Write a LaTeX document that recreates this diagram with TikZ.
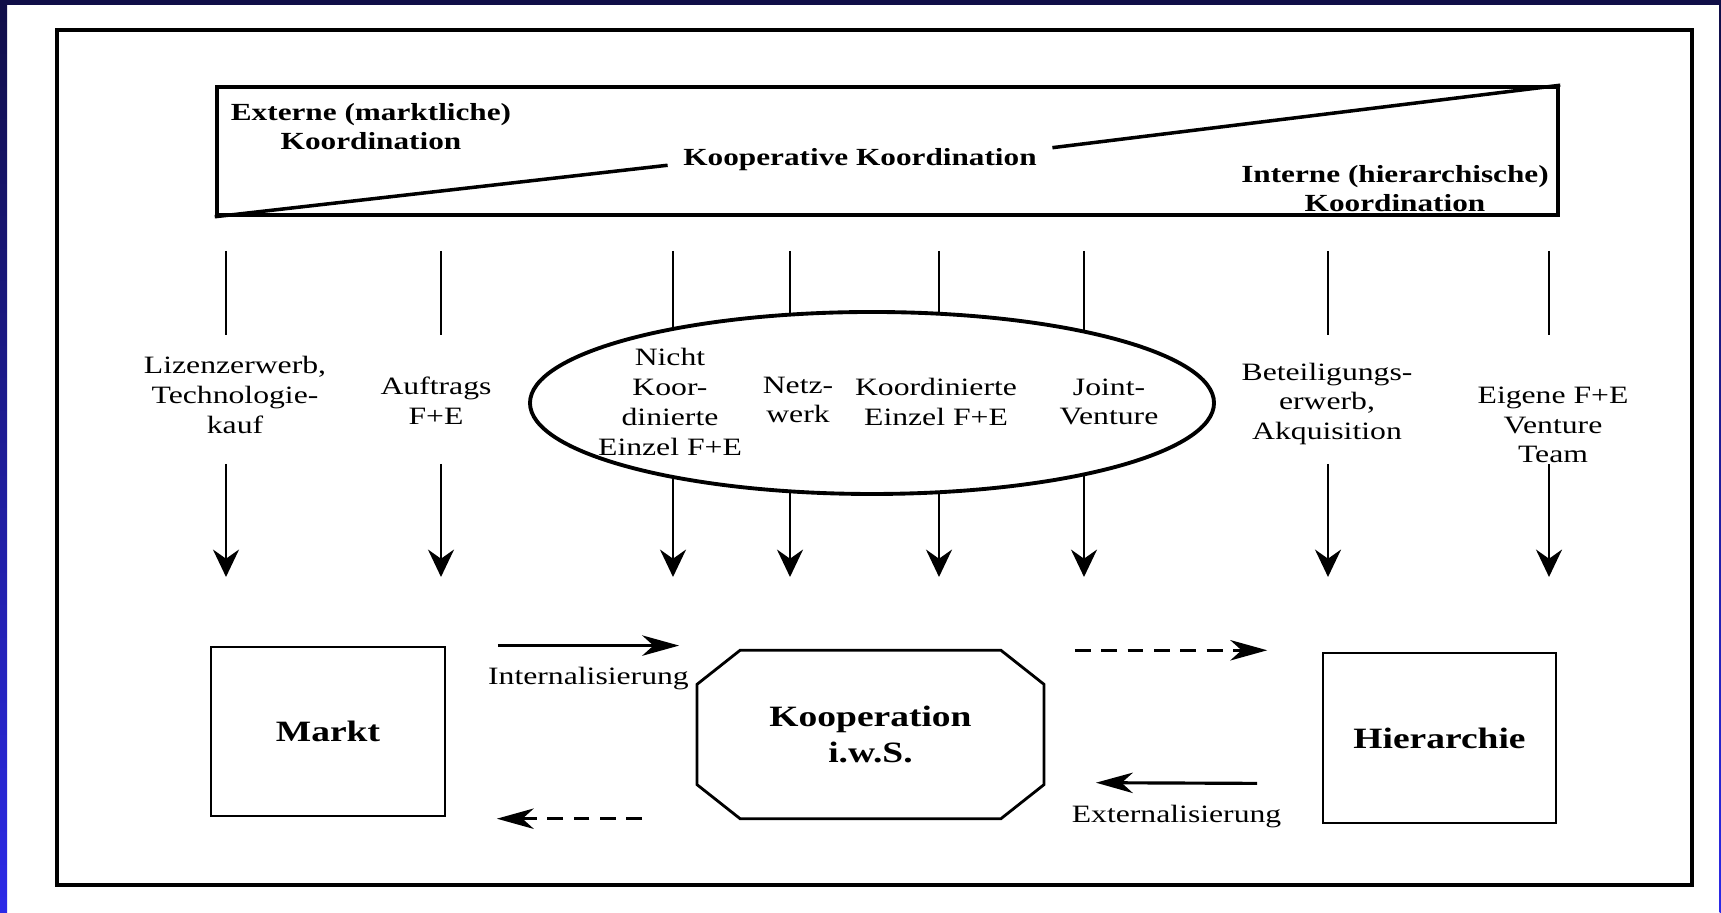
\documentclass[tikz,border=0pt]{standalone}
\usepackage{fontspec}
\setmainfont{Liberation Serif}
\usetikzlibrary{arrows.meta, shapes.geometric}

\definecolor{slidenavy}{RGB}{16,14,72}
\definecolor{slideblue}{RGB}{44,42,232}

\begin{document}
\begin{tikzpicture}[every node/.style={xscale=1.27},
    lbl/.style={align=center, font=\fontsize{7.1}{8.5}\selectfont},
    head/.style={align=center, font=\bfseries\fontsize{7}{8.2}\selectfont},
    bigbox/.style={draw, line width=0.8pt, align=center, font=\bfseries\fontsize{8.4}{10}\selectfont},
    vline/.style={line width=0.65pt},
    down/.style={-{Stealth[length=7.8pt, width=7.4pt, inset=2.6pt]}, line width=0.65pt},
    side/.style={-{Stealth[length=10.5pt, width=5.8pt, inset=3.2pt]}, line width=0.9pt}]
    \useasboundingbox (0,0) rectangle (17.21,9.13);
    % Slide frame
    \fill[white] (0,0) rectangle (17.21,9.13);
    \fill[slidenavy] (0,9.08) rectangle (17.21,9.13);
    \shade[top color=slidenavy, bottom color=slideblue] (0,0) rectangle (0.07,9.08);
    \shade[top color=slidenavy, bottom color=slideblue] (17.195,0) rectangle (17.21,9.08);
    \draw[line width=0.9pt] (0.57,0.28) rectangle (16.92,8.83);

    % Coordination band
    \node[draw, line width=1pt, minimum width=10.559cm, minimum height=1.28cm, inner sep=0] (band) at (8.875,7.62) {};
    \node[head] (ext) at (3.71,7.86) {Externe (marktliche)\\Koordination};
    \node[head] (kk) at (8.60,7.53) {Kooperative Koordination};
    \node[head] (int) at (13.95,7.245) {Interne (hierarchische)\\Koordination};
    \draw[line width=1pt] (band.south west) -- ([yshift=-1.5pt]kk.west);
    \draw[line width=1pt] ([yshift=3.5pt]kk.east) -- (band.north east);

    % Columns
    \foreach \x [count=\i] in {2.26,4.41,6.73,7.90,9.39,10.84,13.28,15.49}{
        \coordinate (top\i) at (\x,6.62);
        \coordinate (end\i) at (\x,5.78);
        \coordinate (start\i) at (\x,4.49);
        \coordinate (tip\i) at (\x,3.36);
    }
    \foreach \i in {1,2,7,8}{
        \draw[vline] (top\i) -- (end\i);
        \draw[down] (start\i) -- (tip\i);
    }
    \foreach \i in {3,...,6}
        \draw[down] (top\i) -- (tip\i);

    % Cooperation forms
    \node[ellipse, draw, fill=white, line width=1.1pt, minimum width=5.386cm, minimum height=1.82cm, inner sep=0] (grp) at (8.72,5.10) {};
    \node[lbl] (lz) at (2.35,5.18) {Lizenzerwerb,\\Technologie-\\kauf};
    \node[lbl] (auf) at (4.36,5.12) {Auftrags\\F+E};
    \node[lbl] (nk) at (6.70,5.11) {Nicht\\Koor-\\dinierte\\Einzel F+E};
    \node[lbl] (nw) at (7.98,5.13) {Netz-\\werk};
    \node[lbl] (kez) at (9.36,5.11) {Koordinierte\\Einzel F+E};
    \node[lbl] (jv) at (11.09,5.11) {Joint-\\Venture};
    \node[lbl] (bet) at (13.27,5.09) {Beteiligungs-\\erwerb,\\Akquisition};
    \node[lbl] (eig) at (15.53,4.88) {Eigene F+E\\Venture\\Team};

    % Institutions
    \node[bigbox, minimum width=1.843cm, minimum height=1.69cm] (markt) at (3.28,1.815) {Markt};
    \node[align=center, font=\bfseries\fontsize{8.4}{10}\selectfont, minimum width=2.717cm, minimum height=1.67cm] (koop) at (8.705,1.785) {Kooperation\\i.w.S.};
    \node[bigbox, minimum width=1.835cm, minimum height=1.70cm] (hier) at (14.395,1.75) {Hierarchie};
    \draw[line width=0.8pt] ([xshift=0.43cm]koop.north west) -- ([xshift=-0.43cm]koop.north east)
        -- ([yshift=-0.34cm]koop.north east) -- ([yshift=0.34cm]koop.south east)
        -- ([xshift=-0.43cm]koop.south east) -- ([xshift=0.43cm]koop.south west)
        -- ([yshift=0.34cm]koop.south west) -- ([yshift=-0.34cm]koop.north west) -- cycle;

    % Arrows
    \draw[side] ([xshift=0.51cm]markt.north east) -- ([xshift=-0.18cm]markt.north east -| koop.west)
        node[midway, below=2.5pt, lbl] (inl) {Internalisierung};
    \draw[side, dash pattern=on 4.5pt off 3pt] ([xshift=0.31cm]koop.north east) -- ([xshift=-0.54cm]koop.north east -| hier.west);
    \draw[side] ([shift={(-0.64,0.41)}]hier.south west) -- ([shift={(0.52,0.36)}]koop.south east)
        node[midway, below=2.5pt, lbl] (exl) {Externalisierung};
    \draw[side, dash pattern=on 4.5pt off 3pt] ([xshift=-0.55cm]koop.south west) -- ([xshift=0.50cm]koop.south west -| markt.east);
\end{tikzpicture}
\end{document}
